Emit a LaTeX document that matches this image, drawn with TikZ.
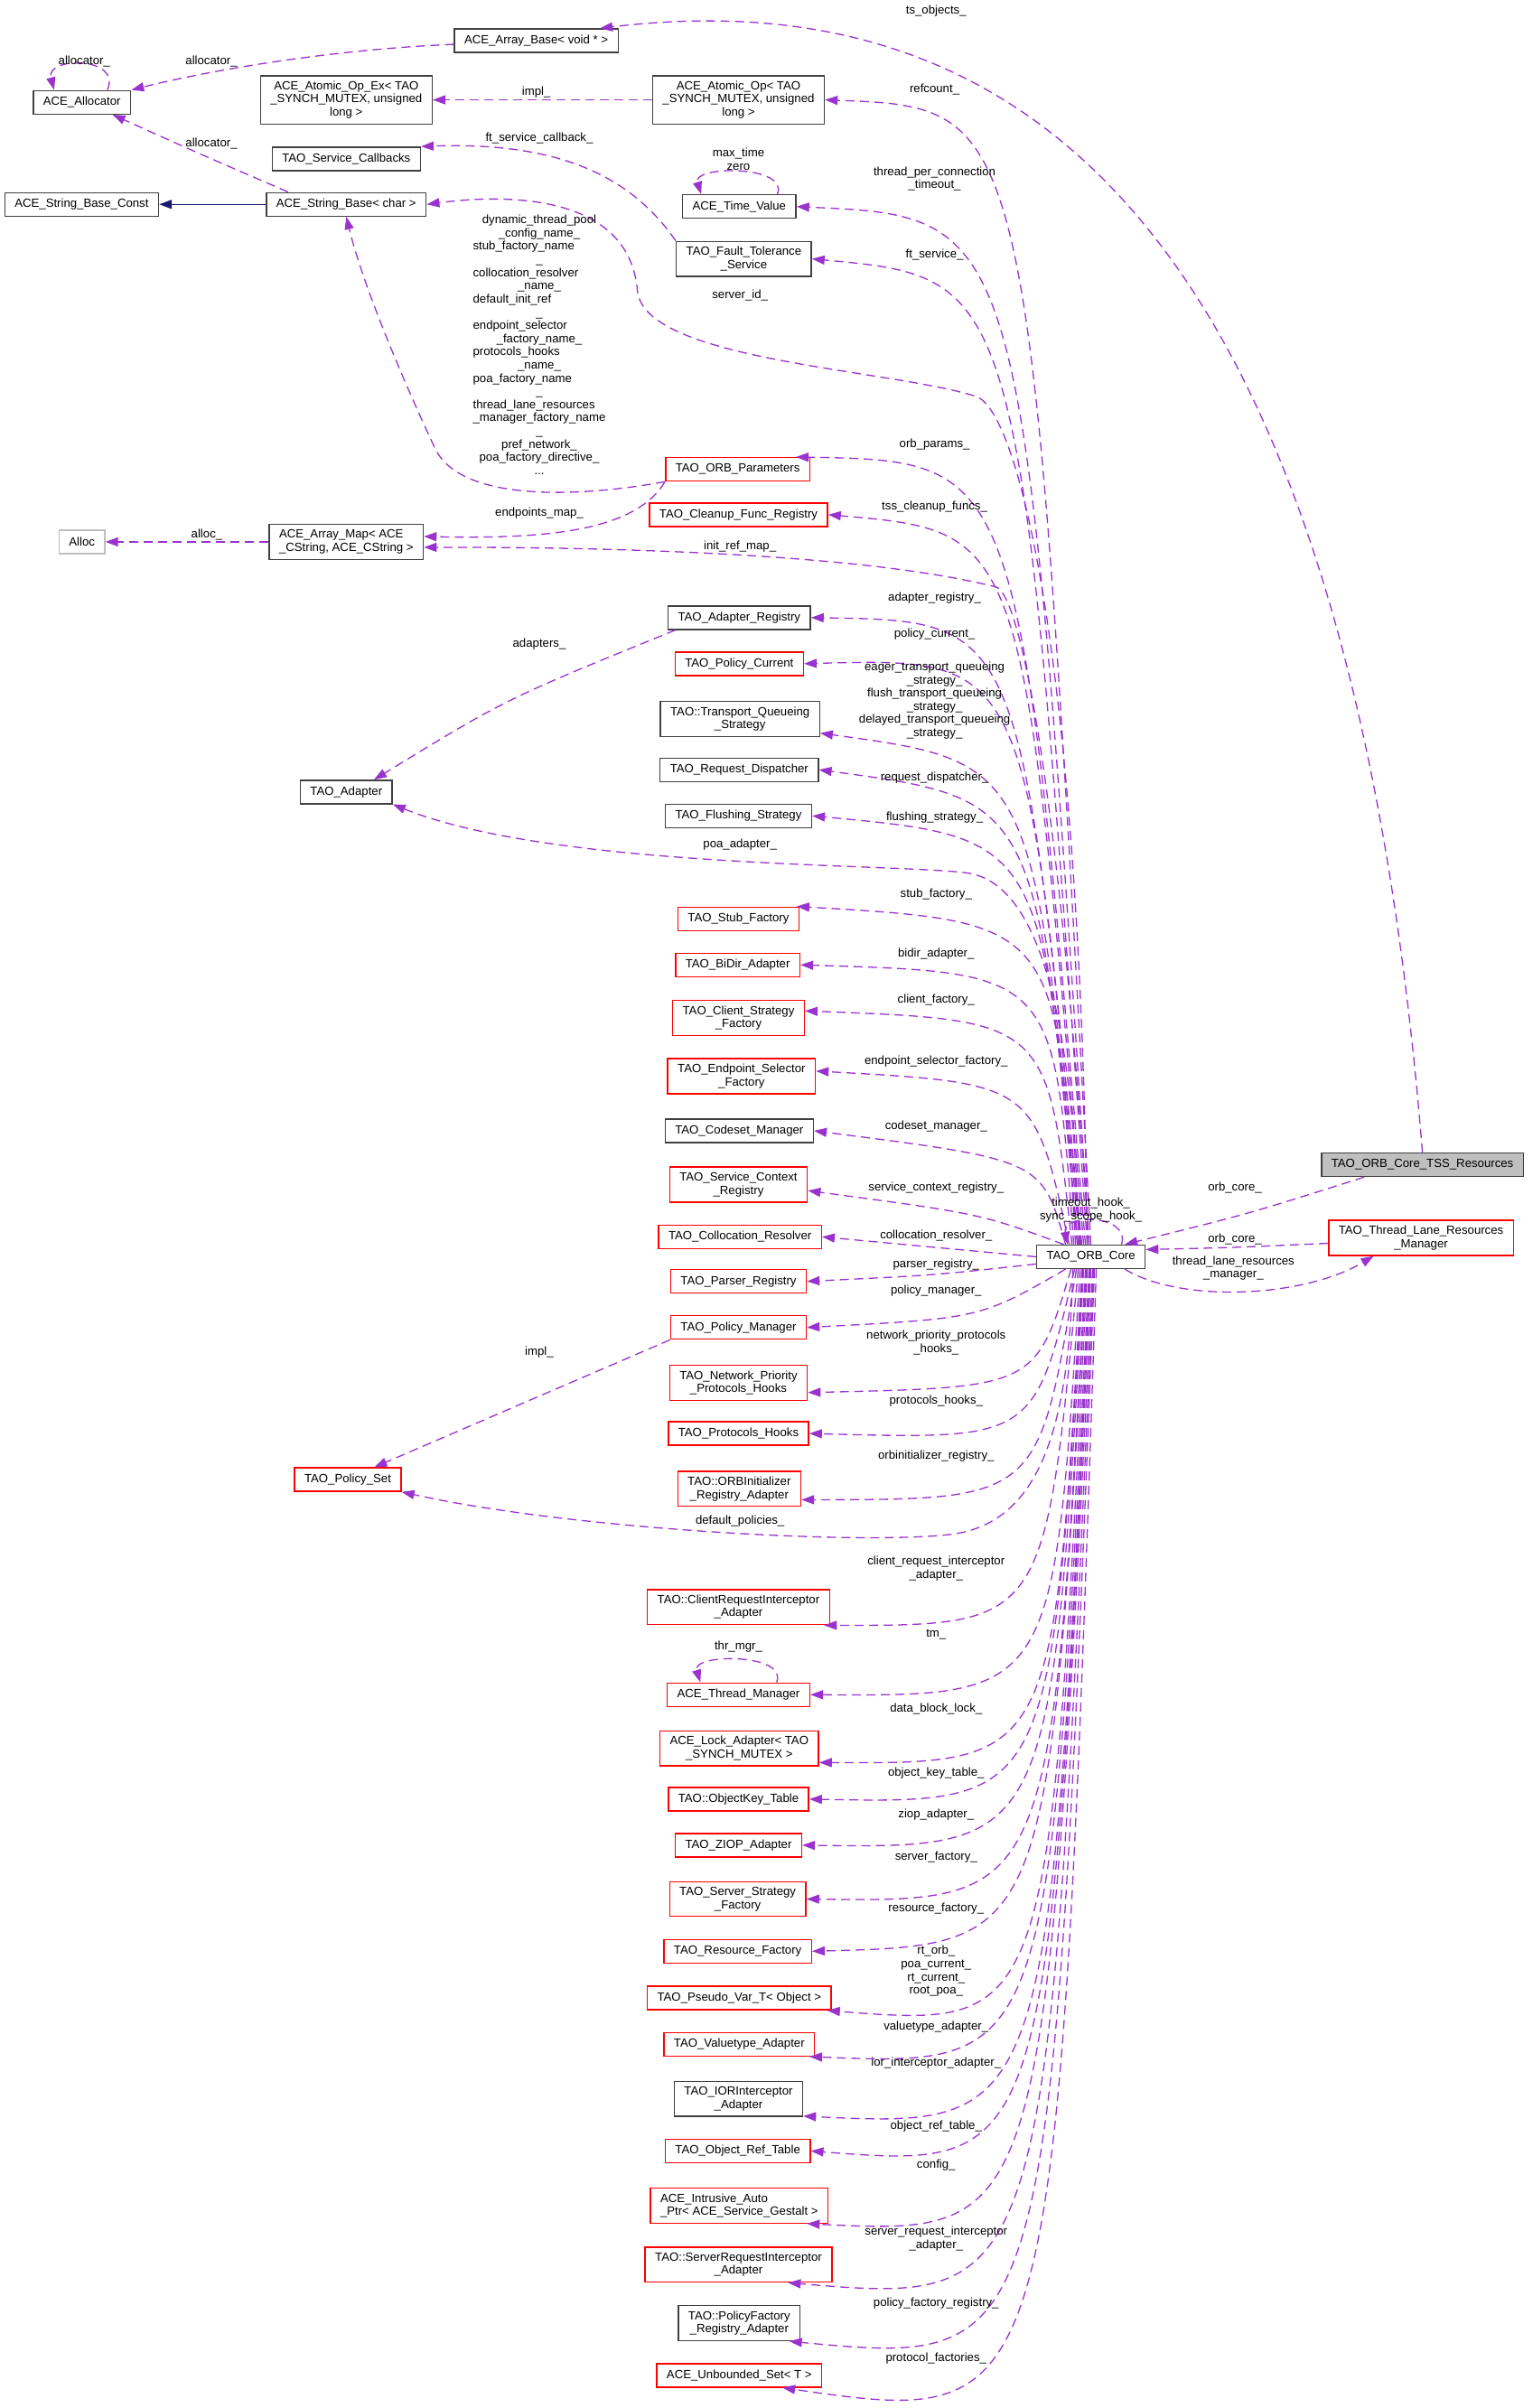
\documentclass[tikz,border=0pt]{standalone}
\usepackage{fontspec}
\usetikzlibrary{arrows.meta}
\newfontfamily\dxsans{Liberation Sans}
\definecolor{orchid}{RGB}{154,50,205}
\definecolor{navy}{RGB}{25,25,112}
\tikzset{
  box/.style={draw=black!75, line width=1.4pt, fill=white, align=center,
    font=\dxsans\fontsize{13.2pt}{14.6pt}\selectfont,
    inner xsep=11pt, inner ysep=6pt, minimum height=26pt},
  redbox/.style={box, draw=red},
  greybox/.style={box, draw=black!25},
  rootbox/.style={box, fill=black!25},
  lbl/.style={align=center, inner sep=0pt, font=\dxsans\fontsize{13.2pt}{14.6pt}\selectfont},
  member/.style={draw=orchid, line width=1.3pt, dash pattern=on 10pt off 6pt,
    -{Triangle[length=14pt,width=10pt]}},
  inherit/.style={draw=navy, line width=1.3pt, -{Triangle[length=14pt,width=10pt]}},
}
\begin{document}
\begin{tikzpicture}[x=1.696pt, y=-1.701pt]
  \useasboundingbox (0,0) rectangle (1000,1567.3);
  % classes
  \node[box] (arraybase) at (350,26.5) {ACE\_Array\_Base< void * >};
  \node[box] (allocator) at (53.5,66.6) {ACE\_Allocator};
  \node[box] (acopex) at (226,65) {ACE\_Atomic\_Op\_Ex< TAO\\\_SYNCH\_MUTEX, unsigned\\long >};
  \node[box] (acop) at (482,65) {ACE\_Atomic\_Op< TAO\\\_SYNCH\_MUTEX, unsigned\\long >};
  \node[box] (svccb) at (226,103.4) {TAO\_Service\_Callbacks};
  \node[box] (strconst) at (53.3,133) {ACE\_String\_Base\_Const};
  \node[box] (strbase) at (226,133) {ACE\_String\_Base< char >};
  \node[box] (timeval) at (482.5,134.5) {ACE\_Time\_Value};
  \node[box] (ftsvc) at (485.5,168.5) {TAO\_Fault\_Tolerance\\\_Service};
  \node[redbox] (orbparams) at (481.5,305.5) {TAO\_ORB\_Parameters};
  \node[redbox] (cleanup) at (482,335) {TAO\_Cleanup\_Func\_Registry};
  \node[greybox] (alloc) at (53.5,352.7) {Alloc};
  \node[box, align=left] (arraymap) at (226,352.7) {ACE\_Array\_Map< ACE\\\_CString, ACE\_CString >};
  \node[box] (adapterreg) at (482.5,402) {TAO\_Adapter\_Registry};
  \node[redbox] (policycur) at (482.5,432) {TAO\_Policy\_Current};
  \node[box] (tqs) at (483,468) {TAO::Transport\_Queueing\\\_Strategy};
  \node[box] (reqdisp) at (482.5,501) {TAO\_Request\_Dispatcher};
  \node[box] (flushing) at (482,531) {TAO\_Flushing\_Strategy};
  \node[box] (adapter) at (226,515.5) {TAO\_Adapter};
  \node[redbox] (stubfac) at (482,598) {TAO\_Stub\_Factory};
  \node[redbox] (bidir) at (481.5,628) {TAO\_BiDir\_Adapter};
  \node[redbox] (clientfac) at (482,662.5) {TAO\_Client\_Strategy\\\_Factory};
  \node[redbox] (epsel) at (484,700.5) {TAO\_Endpoint\_Selector\\\_Factory};
  \node[box] (codeset) at (482.5,736) {TAO\_Codeset\_Manager};
  \node[redbox] (svcctx) at (482,771) {TAO\_Service\_Context\\\_Registry};
  \node[redbox] (colloc) at (483,805) {TAO\_Collocation\_Resolver};
  \node[redbox] (parser) at (482,834) {TAO\_Parser\_Registry};
  \node[redbox] (policymgr) at (482,864) {TAO\_Policy\_Manager};
  \node[redbox] (netprio) at (482,900) {TAO\_Network\_Priority\\\_Protocols\_Hooks};
  \node[redbox] (protohooks) at (482,933) {TAO\_Protocols\_Hooks};
  \node[redbox] (orbinit) at (482.5,969) {TAO::ORBInitializer\\\_Registry\_Adapter};
  \node[redbox] (policyset) at (227,963) {TAO\_Policy\_Set};
  \node[redbox] (clientri) at (482,1046) {TAO::ClientRequestInterceptor\\\_Adapter};
  \node[redbox] (threadmgr) at (482,1103) {ACE\_Thread\_Manager};
  \node[redbox] (lockadapter) at (482.5,1138) {ACE\_Lock\_Adapter< TAO\\\_SYNCH\_MUTEX >};
  \node[redbox] (objkey) at (482,1171) {TAO::ObjectKey\_Table};
  \node[redbox] (ziop) at (482,1201) {TAO\_ZIOP\_Adapter};
  \node[redbox] (serverfac) at (481.5,1236) {TAO\_Server\_Strategy\\\_Factory};
  \node[redbox] (resfac) at (481.5,1270) {TAO\_Resource\_Factory};
  \node[redbox] (pseudovar) at (482.5,1300.5) {TAO\_Pseudo\_Var\_T< Object >};
  \node[redbox] (valuetype) at (482.5,1330.5) {TAO\_Valuetype\_Adapter};
  \node[box] (iorint) at (482,1366) {TAO\_IORInterceptor\\\_Adapter};
  \node[redbox] (objref) at (481.5,1400) {TAO\_Object\_Ref\_Table};
  \node[redbox, align=left] (intrusive) at (482.5,1435.5) {ACE\_Intrusive\_Auto\\\_Ptr< ACE\_Service\_Gestalt >};
  \node[redbox] (serverri) at (482,1474) {TAO::ServerRequestInterceptor\\\_Adapter};
  \node[box] (policyfac) at (482.5,1512) {TAO::PolicyFactory\\\_Registry\_Adapter};
  \node[redbox] (unbounded) at (482.5,1546) {ACE\_Unbounded\_Set< T >};
  \node[box] (core) at (712,818) {TAO\_ORB\_Core};
  \node[rootbox] (tss) at (928.4,758.1) {TAO\_ORB\_Core\_TSS\_Resources};
  \node[redbox] (tlrm) at (927.5,805.7) {TAO\_Thread\_Lane\_Resources\\\_Manager};

  % members of TAO_ORB_Core, upper half
  \foreach \dx/\dst/\cx/\cy in {0pt/acop.east/672/70, -2pt/timeval.east/668/141,
      -4pt/ftsvc.east/666/181, -6pt/orbparams.12/665/300, -8pt/cleanup.east/668/346,
      -10pt/adapterreg.east/666/404, -11pt/policycur.east/670/428, -12pt/tqs.350/674/496,
      -14pt/reqdisp.east/676/520, -15pt/flushing.east/680/545, -17pt/stubfac.12/690/600,
      -19pt/bidir.east/688/633, -21pt/clientfac.6/684/664, -24pt/epsel.4/675/705,
      -28pt/codeset.east/680/755}
    \draw[member] ([xshift=\dx]core.north) .. controls (\cx,\cy) .. (\dst);
  % members of TAO_ORB_Core, lower half
  \foreach \dx/\dst/\cx/\cy in {-22pt/netprio.352/676/903, -18pt/protohooks.east/675/937,
      -16pt/orbinit.350/678/976, -14pt/clientri.348/682/1058, -12pt/threadmgr.east/688/1104,
      -10pt/lockadapter.350/688/1148, -9pt/objkey.east/686/1174, -8pt/ziop.east/686/1203,
      -6pt/serverfac.east/686/1238, -5pt/resfac.east/684/1266, -4pt/pseudovar.352/685/1320,
      -2pt/valuetype.350/685/1345, -1pt/iorint.345/685/1385, 0pt/objref.east/684/1412,
      2pt/intrusive.345/682/1455, 3pt/serverri.340/684/1500, 4pt/policyfac.340/686/1540,
      6pt/unbounded.344/690/1580}
    \draw[member] ([xshift=\dx]core.south) .. controls (\cx,\cy) .. (\dst);
  \draw[member] ([xshift=-30pt]core.north) .. controls (640,790) .. (svcctx.355);
  \draw[member] (core.west) .. controls (610,812) .. (colloc.east);
  \draw[member] ([yshift=-8pt]core.west) .. controls (610,830) .. (parser.east);
  \draw[member] ([xshift=-28pt]core.south) .. controls (640,858) .. (policymgr.east);
  \draw[member] ([xshift=-4pt]core.north) .. controls (705,430) and (665,267) .. (637,258)
    .. controls (580,240) and (420,235) .. (416,189) .. controls (411,130) and (340,125) .. (strbase.east);
  \draw[member] ([xshift=-2pt]core.north) .. controls (690,500) and (665,386) .. (650,382)
    .. controls (570,362) and (420,356) .. (arraymap.356);
  \draw[member] ([xshift=-13pt]core.north) .. controls (700,650) and (675,573) .. (630,568)
    .. controls (580,562) and (360,565) .. (adapter.south east);
  \draw[member] ([xshift=-20pt]core.south) .. controls (698,930) and (678,985) .. (630,997)
    .. controls (590,1007) and (380,997) .. (policyset.south east);
  % self references
  \draw[member] (core.22) .. controls +(6,-20) and +(-4,-20) .. (core.152);
  \draw[member] (allocator.26) .. controls +(10,-22) and +(-6,-22) .. (allocator.156);
  \draw[member] (timeval.18) .. controls +(8,-19) and +(-6,-19) .. (timeval.162);
  \draw[member] (threadmgr.18) .. controls +(8,-19) and +(-6,-19) .. (threadmgr.162);
  % other members
  \draw[member] (tss.north) .. controls (880,150) and (670,-15) .. (arraybase.11);
  \draw[member] (tss.192) .. controls (815,790) .. (core.20);
  \draw[member] ([yshift=-6pt]tlrm.west) .. controls (805,812) .. ([yshift=8pt]core.east);
  \draw[member] (core.340) .. controls (770,848) and (850,845) .. (tlrm.201);
  \draw[member] ([yshift=-4pt]arraybase.west) .. controls (220,32) and (140,45) .. (allocator.north east);
  \draw[member] (strbase.168) .. controls (130,100) .. (allocator.338);
  \draw[member] (acop.west) -- (acopex.east);
  \draw[member] (ftsvc.north west) .. controls (414,118) and (370,92) .. (svccb.north east);
  \draw[member] (orbparams.south west) .. controls (370,325) and (300,325) .. (284,292)
    .. controls (268,258) and (238,190) .. (strbase.south);
  \draw[member] (orbparams.south west) .. controls (415,345) and (360,351) .. (arraymap.4);
  \draw[member] (arraymap.west) -- (alloc.east);
  \draw[member] (adapterreg.191) .. controls (330,455) .. (adapter.24);
  \draw[member] (policymgr.south west) -- (policyset.25);
  \draw[inherit] (strbase) -- (strconst);

  % member names
  \node[lbl] (l-tsobj) at (611,7) {ts\_objects\_};
  \node[lbl] (l-alloc1) at (55,40) {allocator\_};
  \node[lbl] (l-alloc2) at (138,40) {allocator\_};
  \node[lbl] (l-alloc3) at (138,93.5) {allocator\_};
  \node[lbl] (l-impl1) at (350,60) {impl\_};
  \node[lbl] (l-refcount) at (610,58) {refcount\_};
  \node[lbl] (l-ftcb) at (352,90) {ft\_service\_callback\_};
  \node[lbl] (l-tv) at (482,103.5) {max\_time\\zero};
  \node[lbl] (l-tpc) at (610,116.5) {thread\_per\_connection\\\_timeout\_};
  \node[lbl] (l-ftsvc) at (610,166) {ft\_service\_};
  \node[lbl] (l-names) at (352,225.5) {\begin{tabular}{@{}c@{}}
      dynamic\_thread\_pool\\ \_config\_name\_\\ \multicolumn{1}{@{}l@{}}{stub\_factory\_name}\\ \_\\
      \multicolumn{1}{@{}l@{}}{collocation\_resolver}\\ \_name\_\\ \multicolumn{1}{@{}l@{}}{default\_init\_ref}\\ \_\\
      \multicolumn{1}{@{}l@{}}{endpoint\_selector}\\ \_factory\_name\_\\ \multicolumn{1}{@{}l@{}}{protocols\_hooks}\\ \_name\_\\
      \multicolumn{1}{@{}l@{}}{poa\_factory\_name}\\ \_\\ \multicolumn{1}{@{}l@{}}{thread\_lane\_resources}\\
      \multicolumn{1}{@{}l@{}}{\_manager\_factory\_name}\\ \_\\ pref\_network\_\\ poa\_factory\_directive\_\\ ...
    \end{tabular}};
  \node[lbl] (l-serverid) at (483,192) {server\_id\_};
  \node[lbl] (l-orbparams) at (610,289) {orb\_params\_};
  \node[lbl] (l-tss) at (610,330) {tss\_cleanup\_funcs\_};
  \node[lbl] (l-epmap) at (352,334) {endpoints\_map\_};
  \node[lbl] (l-alloc4) at (135,348) {alloc\_};
  \node[lbl] (l-initref) at (483,356) {init\_ref\_map\_};
  \node[lbl] (l-adreg) at (610,389) {adapter\_registry\_};
  \node[lbl] (l-adapters) at (352,419) {adapters\_};
  \node[lbl] (l-polcur) at (610,413) {policy\_current\_};
  \node[lbl] (l-tqs) at (610,456) {eager\_transport\_queueing\\\_strategy\_\\flush\_transport\_queueing\\\_strategy\_\\delayed\_transport\_queueing\\\_strategy\_};
  \node[lbl] (l-reqdisp) at (610,506) {request\_dispatcher\_};
  \node[lbl] (l-flush) at (610,532) {flushing\_strategy\_};
  \node[lbl] (l-poa) at (483,550) {poa\_adapter\_};
  \node[lbl] (l-stub) at (611,582) {stub\_factory\_};
  \node[lbl] (l-bidir) at (611,621) {bidir\_adapter\_};
  \node[lbl] (l-client) at (611,651) {client\_factory\_};
  \node[lbl] (l-epsel) at (611,691) {endpoint\_selector\_factory\_};
  \node[lbl] (l-codeset) at (611,733) {codeset\_manager\_};
  \node[lbl] (l-svcctx) at (611,773) {service\_context\_registry\_};
  \node[lbl] (l-hooks) at (712,787.5) {timeout\_hook\_\\sync\_scope\_hook\_};
  \node[lbl] (l-colloc) at (611,804) {collocation\_resolver\_};
  \node[lbl] (l-orbcore1) at (806,773) {orb\_core\_};
  \node[lbl] (l-orbcore2) at (806,806.5) {orb\_core\_};
  \node[lbl] (l-tlrm) at (805,825.5) {thread\_lane\_resources\\\_manager\_};
  \node[lbl] (l-parser) at (611,823) {parser\_registry\_};
  \node[lbl] (l-polmgr) at (611,840) {policy\_manager\_};
  \node[lbl] (l-netprio) at (611,874) {network\_priority\_protocols\\\_hooks\_};
  \node[lbl] (l-impl2) at (352,880) {impl\_};
  \node[lbl] (l-proto) at (611,912) {protocols\_hooks\_};
  \node[lbl] (l-orbinit) at (611,948) {orbinitializer\_registry\_};
  \node[lbl] (l-defpol) at (483,990) {default\_policies\_};
  \node[lbl] (l-clientri) at (611,1021) {client\_request\_interceptor\\\_adapter\_};
  \node[lbl] (l-tm) at (611,1063.5) {tm\_};
  \node[lbl] (l-thr) at (482,1072) {thr\_mgr\_};
  \node[lbl] (l-dbl) at (611,1112) {data\_block\_lock\_};
  \node[lbl] (l-okt) at (611,1154) {object\_key\_table\_};
  \node[lbl] (l-ziop) at (611,1181) {ziop\_adapter\_};
  \node[lbl] (l-sfac) at (611,1209) {server\_factory\_};
  \node[lbl] (l-rfac) at (611,1242) {resource\_factory\_};
  \node[lbl] (l-pseudo) at (611,1283) {rt\_orb\_\\poa\_current\_\\rt\_current\_\\root\_poa\_};
  \node[lbl] (l-vt) at (611,1319) {valuetype\_adapter\_};
  \node[lbl] (l-ior) at (611,1343) {ior\_interceptor\_adapter\_};
  \node[lbl] (l-ort) at (611,1384) {object\_ref\_table\_};
  \node[lbl] (l-config) at (611,1409) {config\_};
  \node[lbl] (l-serverri) at (611,1457) {server\_request\_interceptor\\\_adapter\_};
  \node[lbl] (l-pfr) at (611,1499) {policy\_factory\_registry\_};
  \node[lbl] (l-pf) at (611,1535) {protocol\_factories\_};
\end{tikzpicture}
\end{document}
